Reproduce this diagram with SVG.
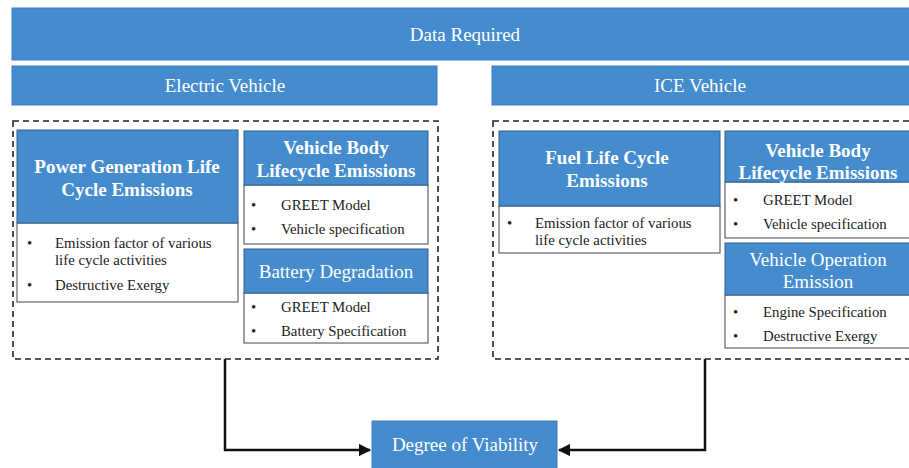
<svg xmlns="http://www.w3.org/2000/svg" width="909" height="468" viewBox="0 0 909 468">
<defs>
<style>
.bar{fill:#458ccf;stroke:#3b7dbd;stroke-width:1}
.hdr{fill:#458ccf;stroke:#2f5f8f;stroke-width:1}
.body{fill:#ffffff;stroke:#444;stroke-width:1}
.dash{fill:none;stroke:#222;stroke-width:1.6;stroke-dasharray:6,4}
.wt{font-family:"Liberation Serif",serif;fill:#ffffff;text-anchor:middle}
.big{font-size:19px}
.hb{font-size:19px;font-weight:bold}
.hn{font-size:19px}
.bt{font-family:"Liberation Serif",serif;fill:#222;font-size:14.8px}
.conn{fill:none;stroke:#111;stroke-width:2.5}
</style>
<marker id="ah" viewBox="0 0 10 10" refX="9" refY="5" markerWidth="5" markerHeight="5" orient="auto" markerUnits="strokeWidth">
<path d="M0,0 L10,5 L0,10 z" fill="#111"/>
</marker>
</defs>
<rect width="909" height="468" fill="#ffffff"/>

<g id="data-required">
<rect class="bar" x="12" y="8" width="900" height="52"/>
<text class="wt big" x="465" y="41">Data Required</text>
</g>
<g id="electric-vehicle">
<rect class="bar" x="12" y="66" width="425" height="39"/>
<text class="wt big" x="225" y="92">Electric Vehicle</text>
</g>
<g id="ice-vehicle">
<rect class="bar" x="492" y="66" width="420" height="39"/>
<text class="wt big" x="700" y="92">ICE Vehicle</text>
</g>

<g id="ev-group">
<rect class="dash" x="13" y="121" width="425" height="238"/>
</g>
<g id="ice-group">
<rect class="dash" x="493" y="121" width="425" height="238"/>
</g>

<g id="power-generation">
<rect class="body" x="17" y="223" width="221" height="79"/>
<rect class="hdr" x="17" y="130" width="221" height="93"/>
<text class="wt hb" x="127" y="173">Power Generation Life</text>
<text class="wt hb" x="127" y="196">Cycle Emissions</text>
<text class="bt" x="27" y="248">•</text>
<text class="bt" x="55" y="248">Emission factor of various</text>
<text class="bt" x="55" y="265">life cycle activities</text>
<text class="bt" x="27" y="290">•</text>
<text class="bt" x="55" y="290">Destructive Exergy</text>
</g>

<g id="ev-vehicle-body">
<rect class="body" x="244" y="185" width="184" height="59"/>
<rect class="hdr" x="244" y="131" width="184" height="54"/>
<text class="wt hb" x="336" y="154">Vehicle Body</text>
<text class="wt hb" x="336" y="177">Lifecycle Emissions</text>
<text class="bt" x="251" y="210">•</text>
<text class="bt" x="281" y="210">GREET Model</text>
<text class="bt" x="251" y="234">•</text>
<text class="bt" x="281" y="234">Vehicle specification</text>
</g>

<g id="battery-degradation">
<rect class="body" x="244" y="293" width="184" height="50"/>
<rect class="hdr" x="244" y="249" width="184" height="44"/>
<text class="wt hn" x="336" y="278">Battery Degradation</text>
<text class="bt" x="251" y="312">•</text>
<text class="bt" x="281" y="312">GREET Model</text>
<text class="bt" x="251" y="336">•</text>
<text class="bt" x="281" y="336">Battery Specification</text>
</g>

<g id="fuel-life-cycle">
<rect class="body" x="499" y="206" width="221" height="47"/>
<rect class="hdr" x="499" y="131" width="221" height="75"/>
<text class="wt hb" x="607" y="164">Fuel Life Cycle</text>
<text class="wt hb" x="607" y="187">Emissions</text>
<text class="bt" x="507" y="228">•</text>
<text class="bt" x="535" y="228">Emission factor of various</text>
<text class="bt" x="535" y="245">life cycle activities</text>
</g>

<g id="ice-vehicle-body">
<rect class="body" x="725" y="182" width="190" height="56"/>
<rect class="hdr" x="725" y="131" width="190" height="51"/>
<text class="wt hb" x="818" y="157">Vehicle Body</text>
<text class="wt hb" x="818" y="179">Lifecycle Emissions</text>
<text class="bt" x="733" y="205">•</text>
<text class="bt" x="763" y="205">GREET Model</text>
<text class="bt" x="733" y="229">•</text>
<text class="bt" x="763" y="229">Vehicle specification</text>
</g>

<g id="vehicle-operation">
<rect class="body" x="725" y="295" width="190" height="53"/>
<rect class="hdr" x="725" y="243" width="190" height="52"/>
<text class="wt hn" x="818" y="266">Vehicle Operation</text>
<text class="wt hn" x="818" y="288">Emission</text>
<text class="bt" x="733" y="317">•</text>
<text class="bt" x="763" y="317">Engine Specification</text>
<text class="bt" x="733" y="341">•</text>
<text class="bt" x="763" y="341">Destructive Exergy</text>
</g>

<g id="degree-of-viability">
<rect class="bar" x="372" y="421" width="185" height="52"/>
<text class="wt hn" x="465" y="451">Degree of Viability</text>
</g>

<g id="connectors">
<path class="conn" d="M225,359 V450 H370" marker-end="url(#ah)"/>
<path class="conn" d="M705,359 V450 H559" marker-end="url(#ah)"/>
</g>
</svg>
